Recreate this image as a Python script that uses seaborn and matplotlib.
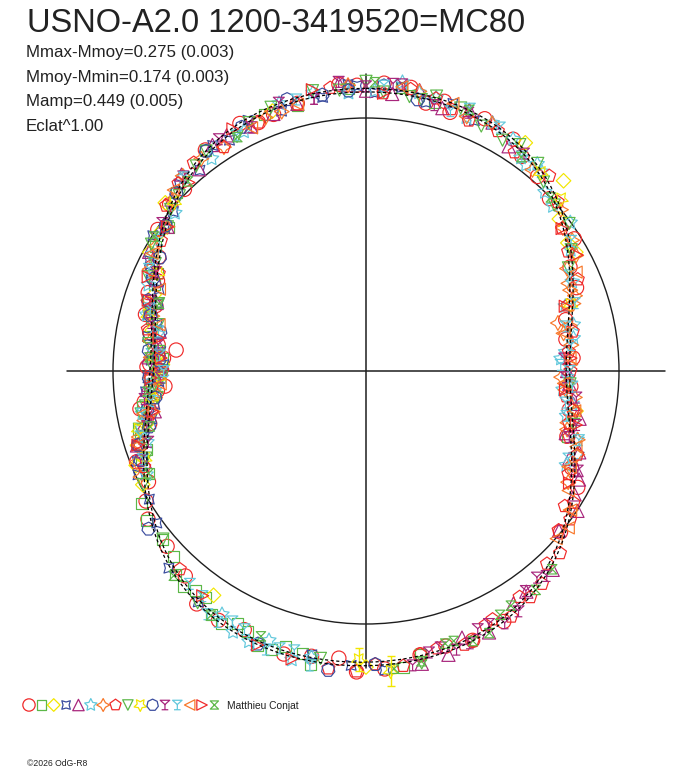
import numpy as np
import matplotlib
matplotlib.use("Agg")
import matplotlib.pyplot as plt
from matplotlib.path import Path
from matplotlib.patches import Circle
import seaborn as sns

sns.set_theme(style="white")
plt.rcParams['font.family'] = ['Liberation Sans', 'DejaVu Sans']

TITLE = "USNO-A2.0 1200-3419520=MC80"
STATS = ["Mmax-Mmoy=0.275 (0.003)", "Mmoy-Mmin=0.174 (0.003)",
         "Mamp=0.449 (0.005)", "Eclat^1.00"]
AUTHOR = "Matthieu Conjat"
COPYRIGHT = "\u00a92026 OdG-R8"

# observations: phase (0..1, clockwise from top) and relative brightness (1 = mean circle)
circle_red_phase = [0.010, 0.035, 0.070, 0.115, 0.190, 0.280, 0.420, 0.470, 0.490, 0.515, 0.545,
                    0.570, 0.600, 0.635, 0.700, 0.725, 0.745, 0.770, 0.790, 0.830, 0.900, 0.960,
                    0.7675, 0.753, 0.738, 0.7236,
                    0.025, 0.050, 0.090, 0.130, 0.160, 0.210, 0.240, 0.300, 0.330, 0.360, 0.440,
                    0.455, 0.505, 0.530, 0.585, 0.615, 0.655, 0.675, 0.690, 0.735, 0.755, 0.760,
                    0.805, 0.815, 0.845, 0.875, 0.925, 0.945, 0.985,
                    0.665, 0.712, 0.728, 0.748, 0.778, 0.798, 0.822, 0.862, 0.935, 0.995, 0.045,
                    0.100, 0.175, 0.225, 0.262, 0.320]
circle_red_flux = [1.140, 1.085, 1.102, 1.025, 0.895, 0.818, 1.130, 1.142, 1.180, 1.140, 1.165,
                   1.130, 1.138, 1.048, 0.935, 0.858, 0.848, 0.828, 0.900, 0.935, 1.080, 1.092,
                   0.755, 0.866, 0.797, 0.906,
                   1.135, 1.075, 1.085, 0.995, 0.975, 0.815, 0.820, 0.835, 0.955, 0.998, 1.145,
                   1.132, 1.190, 1.148, 1.145, 1.080, 1.042, 0.965, 0.975, 0.828, 0.855, 0.802,
                   0.915, 0.898, 0.995, 1.015, 1.098, 1.078, 1.138,
                   1.010, 0.880, 0.885, 0.818, 0.868, 0.870, 0.940, 1.018, 1.070, 1.130, 1.110,
                   1.048, 0.905, 0.800, 0.812, 0.898]

square_green_phase = [0.530, 0.545, 0.560, 0.575, 0.590, 0.605, 0.620, 0.640, 0.655, 0.680, 0.710,
                      0.760, 0.800, 0.850, 0.020, 0.470,
                      0.535, 0.552, 0.568, 0.583, 0.598, 0.612, 0.628, 0.665, 0.695, 0.725, 0.745,
                      0.775, 0.820, 0.900, 0.960, 0.480, 0.300,
                      0.690, 0.705, 0.738, 0.752, 0.788, 0.812, 0.835, 0.870, 0.940, 0.990, 0.040]
square_green_flux = [1.180, 1.135, 1.168, 1.120, 1.140, 1.100, 1.102, 1.045, 1.050, 0.948, 0.930,
                     0.805, 0.905, 0.965, 1.130, 1.142,
                     1.145, 1.162, 1.130, 1.150, 1.098, 1.118, 1.058, 1.030, 0.920, 0.895, 0.815,
                     0.870, 0.910, 1.078, 1.085, 1.180, 0.838,
                     0.955, 0.928, 0.858, 0.822, 0.872, 0.905, 0.965, 1.030, 1.092, 1.118, 1.095]

diamond_yellow_phase = [0.097, 0.128, 0.144, 0.160, 0.168, 0.595, 0.688, 0.861, 0.780, 0.740, 0.500,
                        0.700, 0.720, 0.755, 0.830, 0.280,
                        0.675, 0.712, 0.765, 0.805, 0.845, 0.945]
diamond_yellow_flux = [1.100, 1.084, 0.972, 0.945, 0.953, 1.072, 0.982, 1.035, 0.860, 0.845, 1.170,
                       0.950, 0.860, 0.805, 0.975, 0.845,
                       0.990, 0.895, 0.825, 0.890, 0.980, 1.092]

star4_blue_phase = [0.005, 0.050, 0.600, 0.650, 0.690, 0.715, 0.735, 0.755, 0.775, 0.810, 0.840,
                    0.890, 0.930, 0.975, 0.508,
                    0.020, 0.035, 0.490, 0.530, 0.625, 0.665, 0.700, 0.725, 0.745, 0.765, 0.790,
                    0.800, 0.825, 0.860, 0.905, 0.950, 0.990,
                    0.682, 0.705, 0.742, 0.758, 0.785, 0.818, 0.848, 0.875, 0.915, 0.995, 0.065]
star4_blue_flux = [1.100, 1.112, 1.128, 1.022, 0.972, 0.868, 0.875, 0.800, 0.875, 0.880, 0.998,
                   1.030, 1.095, 1.095, 1.165,
                   1.130, 1.088, 1.185, 1.142, 1.102, 0.995, 0.950, 0.845, 0.862, 0.815, 0.890,
                   0.862, 0.960, 0.988, 1.078, 1.080, 1.135,
                   0.990, 0.910, 0.820, 0.850, 0.845, 0.935, 0.975, 1.045, 1.060, 1.128, 1.078]

tri_purple_phase = [0.985, 0.015, 0.060, 0.930, 0.880, 0.260, 0.275, 0.298, 0.308, 0.320, 0.343,
                    0.455, 0.400, 0.760, 0.800,
                    0.000, 0.030, 0.045, 0.075, 0.960, 0.905, 0.850, 0.830, 0.780, 0.740, 0.720,
                    0.700, 0.285, 0.315, 0.325, 0.360, 0.380, 0.410, 0.430, 0.445, 0.470,
                    0.688, 0.712, 0.752, 0.770, 0.795, 0.815, 0.865, 0.890, 0.915, 0.945, 0.990,
                    0.090, 0.250, 0.335]
tri_purple_flux = [1.142, 1.100, 1.110, 1.068, 1.065, 0.805, 0.830, 0.827, 0.902, 0.920, 1.002,
                   1.168, 1.078, 0.862, 0.870,
                   1.108, 1.130, 1.082, 1.102, 1.090, 1.080, 0.970, 0.978, 0.830, 0.862, 0.850,
                   0.952, 0.865, 0.875, 0.945, 0.990, 1.078, 1.088, 1.142, 1.120, 1.178,
                   0.945, 0.905, 0.840, 0.828, 0.885, 0.905, 1.025, 1.035, 1.082, 1.080, 1.132,
                   1.052, 0.795, 0.958]

star5_cyan_phase = [0.030, 0.020, 0.090, 0.105, 0.115, 0.125, 0.225, 0.240, 0.255, 0.285, 0.310,
                    0.320, 0.540, 0.555, 0.565, 0.700, 0.790, 0.900,
                    0.040, 0.060, 0.075, 0.100, 0.110, 0.135, 0.150, 0.200, 0.215, 0.265, 0.300,
                    0.530, 0.575, 0.585, 0.720, 0.745, 0.810, 0.860, 0.950, 0.990,
                    0.680, 0.710, 0.735, 0.765, 0.778, 0.830, 0.880, 0.925, 0.970, 0.005, 0.165,
                    0.185, 0.235, 0.275]
star5_cyan_flux = [1.120, 1.150, 1.085, 1.032, 1.050, 1.000, 0.830, 0.772, 0.800, 0.812, 0.898,
                   0.875, 1.178, 1.132, 1.165, 0.910, 0.895, 1.038,
                   1.115, 1.078, 1.100, 1.042, 1.062, 0.985, 0.998, 0.828, 0.840, 0.782, 0.878,
                   1.152, 1.158, 1.118, 0.900, 0.808, 0.925, 0.980, 1.112, 1.102,
                   0.960, 0.915, 0.840, 0.845, 0.835, 0.960, 1.050, 1.062, 1.120, 1.108, 0.940,
                   0.888, 0.792, 0.825]

spark_orange_phase = [0.160, 0.175, 0.195, 0.211, 0.230, 0.265, 0.280, 0.295, 0.310, 0.330, 0.345,
                      0.705, 0.730, 0.820, 0.950, 0.075,
                      0.150, 0.170, 0.185, 0.200, 0.220, 0.245, 0.255, 0.270, 0.290, 0.300, 0.320,
                      0.690, 0.720, 0.745, 0.760, 0.800, 0.850, 0.880, 0.910, 0.030, 0.110,
                      0.680, 0.715, 0.735, 0.752, 0.772, 0.790, 0.835, 0.865, 0.895, 0.940, 0.990,
                      0.060, 0.140, 0.190, 0.215, 0.260]
spark_orange_flux = [0.965, 0.892, 0.878, 0.782, 0.818, 0.792, 0.842, 0.828, 0.898, 0.912, 0.978,
                     0.935, 0.840, 0.945, 1.078, 1.098,
                     0.962, 0.948, 0.872, 0.862, 0.795, 0.808, 0.772, 0.832, 0.822, 0.880, 0.888,
                     0.975, 0.858, 0.855, 0.818, 0.905, 0.970, 1.058, 1.048, 1.125, 1.032,
                     0.985, 0.898, 0.845, 0.818, 0.862, 0.872, 0.968, 1.020, 1.062, 1.078, 1.132,
                     1.082, 1.000, 0.868, 0.825, 0.800]

penta_red_phase = [0.010, 0.040, 0.062, 0.080, 0.150, 0.185, 0.250, 0.270, 0.350, 0.360, 0.370,
                   0.380, 0.390, 0.405, 0.415, 0.430, 0.445, 0.460, 0.480, 0.495, 0.520, 0.620,
                   0.860, 0.910,
                   0.025, 0.095, 0.120, 0.165, 0.220, 0.290, 0.310, 0.325, 0.340, 0.345, 0.400,
                   0.425, 0.440, 0.470, 0.505, 0.700, 0.750, 0.780, 0.820, 0.890, 0.960,
                   0.685, 0.715, 0.738, 0.762, 0.795, 0.840, 0.875, 0.935, 0.980, 0.050, 0.135,
                   0.200, 0.235, 0.280, 0.300]
penta_red_flux = [1.100, 1.112, 1.070, 1.082, 0.958, 0.912, 0.808, 0.798, 0.998, 0.988, 1.052,
                  1.045, 1.092, 1.080, 1.128, 1.110, 1.150, 1.132, 1.175, 1.160, 1.185, 1.075,
                  1.025, 1.048,
                  1.128, 1.045, 1.058, 0.928, 0.832, 0.828, 0.898, 0.898, 0.972, 0.950, 1.105,
                  1.102, 1.148, 1.140, 1.188, 0.945, 0.805, 0.878, 0.905, 1.068, 1.088,
                  0.955, 0.885, 0.848, 0.822, 0.885, 0.960, 1.048, 1.070, 1.128, 1.088, 1.010,
                  0.838, 0.805, 0.832, 0.845]

tridown_green_phase = [0.000, 0.025, 0.055, 0.085, 0.110, 0.135, 0.470, 0.690, 0.720, 0.745, 0.770,
                       0.800, 0.835, 0.870, 0.945,
                       0.010, 0.040, 0.070, 0.095, 0.120, 0.150, 0.175, 0.525, 0.600, 0.640, 0.710,
                       0.730, 0.755, 0.785, 0.815, 0.850, 0.900, 0.920, 0.970,
                       0.675, 0.700, 0.725, 0.740, 0.765, 0.792, 0.825, 0.860, 0.890, 0.930, 0.985,
                       0.032, 0.165, 0.260, 0.290]
tridown_green_flux = [1.145, 1.098, 1.105, 1.060, 1.065, 0.992, 1.175, 0.935, 0.905, 0.808, 0.865,
                      0.862, 0.985, 1.012, 1.108,
                      1.105, 1.122, 1.070, 1.082, 1.025, 0.992, 0.898, 1.150, 1.132, 1.042, 0.925,
                      0.832, 0.850, 0.840, 0.938, 0.970, 1.075, 1.058, 1.128,
                      0.988, 0.918, 0.882, 0.838, 0.822, 0.880, 0.935, 1.002, 1.052, 1.085, 1.115,
                      1.095, 0.942, 0.808, 0.848]

star5_yellow_phase = [0.200, 0.504, 0.487, 0.730, 0.760, 0.865, 0.115,
                      0.690, 0.710, 0.745, 0.790, 0.820, 0.135]
star5_yellow_flux = [0.850, 1.142, 1.190, 0.855, 0.835, 1.010, 1.045,
                     0.940, 0.928, 0.818, 0.890, 0.910, 1.028]
star5_yellow_err = [0.0, 0.045, 0.060, 0.0, 0.0, 0.0, 0.0,
                    0.0, 0.0, 0.0, 0.0, 0.0, 0.0]

hepta_blue_phase = [0.495, 0.520, 0.650, 0.710, 0.765, 0.850, 0.955, 0.990,
                    0.560, 0.700, 0.730, 0.745, 0.780, 0.800, 0.830, 0.900, 0.030,
                    0.690, 0.722, 0.758, 0.790, 0.815, 0.870, 0.925, 0.975, 0.010]
hepta_blue_flux = [1.160, 1.192, 1.062, 0.885, 0.862, 0.978, 1.118, 1.110,
                   1.160, 0.948, 0.840, 0.858, 0.828, 0.905, 0.930, 1.075, 1.092,
                   0.958, 0.878, 0.820, 0.880, 0.918, 1.028, 1.082, 1.105, 1.130]

tref_purple_phase = [0.385, 0.400, 0.420, 0.435, 0.450, 0.465, 0.475, 0.970, 0.985, 0.000, 0.020,
                     0.290, 0.760, 0.800,
                     0.390, 0.410, 0.428, 0.442, 0.458, 0.015, 0.040, 0.950, 0.930, 0.910, 0.700,
                     0.730, 0.745, 0.270, 0.300, 0.320,
                     0.690, 0.712, 0.770, 0.785, 0.820, 0.850, 0.880, 0.970, 0.060, 0.100, 0.240,
                     0.255]
tref_purple_flux = [1.080, 1.075, 1.138, 1.112, 1.158, 1.140, 1.178, 1.095, 1.148, 1.125, 1.142,
                    0.858, 0.822, 0.898,
                    1.060, 1.125, 1.112, 1.152, 1.132, 1.140, 1.085, 1.115, 1.065, 1.085, 0.905,
                    0.882, 0.812, 0.838, 0.845, 0.925,
                    0.958, 0.892, 0.828, 0.870, 0.918, 0.995, 1.055, 1.095, 1.098, 1.062, 0.785,
                    0.790]

tref_cyan_phase = [0.530, 0.548, 0.562, 0.578, 0.592, 0.610, 0.230, 0.245, 0.262, 0.275, 0.720,
                   0.750, 0.060,
                   0.540, 0.555, 0.570, 0.585, 0.600, 0.250, 0.285, 0.300, 0.315, 0.200, 0.180,
                   0.050, 0.080, 0.740, 0.780, 0.820,
                   0.690, 0.705, 0.728, 0.762, 0.795, 0.840, 0.880, 0.920, 0.960, 0.010, 0.100,
                   0.160, 0.215]
tref_cyan_flux = [1.185, 1.148, 1.168, 1.122, 1.148, 1.092, 0.818, 0.770, 0.818, 0.798, 0.902,
                  0.800, 1.115,
                  1.140, 1.170, 1.128, 1.152, 1.100, 0.805, 0.812, 0.885, 0.872, 0.868, 0.888,
                  1.080, 1.098, 0.858, 0.835, 0.948,
                  0.948, 0.928, 0.860, 0.818, 0.888, 0.968, 1.050, 1.062, 1.108, 1.130, 1.048,
                  0.960, 0.808]

left_orange_phase = [0.180, 0.220, 0.305, 0.335, 0.355, 0.365, 0.700, 0.785, 0.830, 0.930, 0.050,
                     0.200, 0.240, 0.260, 0.280, 0.320, 0.345, 0.720, 0.740, 0.760, 0.810, 0.870,
                     0.960, 0.020]
left_orange_flux = [0.918, 0.798, 0.882, 0.928, 1.012, 1.002, 0.948, 0.838, 0.965, 1.062, 1.112,
                    0.832, 0.808, 0.782, 0.840, 0.892, 0.978, 0.898, 0.815, 0.858, 0.878, 1.045,
                    1.088, 1.132]

right_red_phase = [0.150, 0.240, 0.265, 0.745, 0.775, 0.815, 0.880, 0.970, 0.540,
                   0.170, 0.200, 0.290, 0.330, 0.560, 0.600, 0.700, 0.720, 0.760, 0.800, 0.850,
                   0.920, 0.010]
right_red_flux = [0.958, 0.812, 0.792, 0.850, 0.828, 0.938, 1.022, 1.132, 1.175,
                  0.952, 0.828, 0.858, 0.918, 1.165, 1.098, 0.948, 0.858, 0.812, 0.905, 0.970,
                  1.092, 1.100]

hour_green_phase = [0.395, 0.412, 0.440, 0.455, 0.590, 0.680, 0.735, 0.880, 0.005, 0.100, 0.470,
                    0.380, 0.420, 0.430, 0.450, 0.485, 0.560, 0.620, 0.710, 0.760, 0.800, 0.840,
                    0.920, 0.060, 0.130]
hour_green_flux = [1.095, 1.090, 1.148, 1.122, 1.145, 0.950, 0.868, 1.028, 1.142, 1.045, 1.168,
                   1.075, 1.100, 1.145, 1.122, 1.182, 1.128, 1.110, 0.882, 0.858, 0.860, 0.992,
                   1.055, 1.110, 1.002]

RED, GREEN, YELLOW, BLUE = "#f02a2a", "#5cb848", "#f2e600", "#3a4c9e"
PURPLE, CYAN, ORANGE = "#a8267c", "#62c8dc", "#f8782a"

# custom marker shapes
trefoil = Path([(-1, 1), (1, 1), (0, 0.1), (-1, 1), (0, 0.1), (0, -1), (-0.7, -1), (0.7, -1)],
               [Path.MOVETO, Path.LINETO, Path.LINETO, Path.CLOSEPOLY,
                Path.MOVETO, Path.LINETO, Path.MOVETO, Path.LINETO])
hourglass = Path([(-1, 1), (1, 1), (-1, -1), (1, -1), (-1, 1)],
                 [Path.MOVETO, Path.LINETO, Path.LINETO, Path.LINETO, Path.CLOSEPOLY])

series = [
    (circle_red_phase, circle_red_flux, RED, "o", 105),
    (square_green_phase, square_green_flux, GREEN, "s", 62),
    (diamond_yellow_phase, diamond_yellow_flux, YELLOW, "D", 55),
    (star4_blue_phase, star4_blue_flux, BLUE, (4, 1, 45), 100),
    (tri_purple_phase, tri_purple_flux, PURPLE, "^", 90),
    (star5_cyan_phase, star5_cyan_flux, CYAN, (5, 1, 0), 115),
    (spark_orange_phase, spark_orange_flux, ORANGE, (4, 1, 0), 115),
    (penta_red_phase, penta_red_flux, RED, "p", 95),
    (tridown_green_phase, tridown_green_flux, GREEN, "v", 75),
    (star5_yellow_phase, star5_yellow_flux, YELLOW, (5, 1, 180), 115),
    (hepta_blue_phase, hepta_blue_flux, BLUE, (7, 0, 0), 95),
    (tref_purple_phase, tref_purple_flux, PURPLE, trefoil, 62),
    (tref_cyan_phase, tref_cyan_flux, CYAN, trefoil, 62),
    (left_orange_phase, left_orange_flux, ORANGE, "<", 75),
    (right_red_phase, right_red_flux, RED, ">", 75),
    (hour_green_phase, hour_green_flux, GREEN, hourglass, 46),
]

W, H = 688, 768
CX, CY, R0 = 366, 371, 253  # centre and unit-circle radius in pixels


def to_xy(phase, flux):
    ang = 2 * np.pi * np.asarray(phase, dtype=float)
    r = np.asarray(flux, dtype=float)
    return r * np.sin(ang), r * np.cos(ang)


def harmonic_fit(phase, flux, order=4):
    ang = 2 * np.pi * np.asarray(phase)
    cols = [np.ones_like(ang)]
    for k in range(1, order + 1):
        cols += [np.cos(k * ang), np.sin(k * ang)]
    coef, *_ = np.linalg.lstsq(np.column_stack(cols), np.asarray(flux), rcond=None)
    return coef


def harmonic_eval(coef, phase):
    ang = 2 * np.pi * phase
    out = np.full_like(ang, coef[0])
    for k in range(1, (len(coef) - 1) // 2 + 1):
        out += coef[2 * k - 1] * np.cos(k * ang) + coef[2 * k] * np.sin(k * ang)
    return out


fig = plt.figure(figsize=(W / 100, H / 100), dpi=100)
ax = fig.add_axes([0, 0, 1, 1])
ax.set_xlim(-CX / R0, (W - CX) / R0)
ax.set_ylim(-(H - CY) / R0, CY / R0)
ax.axis("off")

# mean-brightness circle and axes
ax.add_patch(Circle((0, 0), 1.0, fill=False, ec="#1e1e1e", lw=1.0, zorder=1))
ax.plot([-1.18, 1.18], [0, 0], color="#1e1e1e", lw=1.1, zorder=1)
ax.plot([0, 0], [-1.175, 1.175], color="#1e1e1e", lw=1.1, zorder=1)

# observations
for ph, fl, col, mk, size in series:
    x, y = to_xy(ph, fl)
    sns.scatterplot(x=x, y=y, ax=ax, marker=mk, s=size, facecolor="none",
                    edgecolor=col, linewidth=0.85, legend=False, zorder=3)

# error bars on the faint yellow points
ex, ey = to_xy(star5_yellow_phase, star5_yellow_flux)
err = np.array(star5_yellow_err)
has_err = err > 0
ax.errorbar(ex[has_err], ey[has_err], yerr=err[has_err], fmt="none", ecolor=YELLOW,
            elinewidth=1.0, capsize=3, zorder=3)

# harmonic fit of all points
all_phase = np.concatenate([s[0] for s in series])
all_flux = np.concatenate([s[1] for s in series])
coef = harmonic_fit(all_phase, all_flux)
grid = np.linspace(0, 1, 721)
fit = harmonic_eval(coef, grid)
for off in (-0.007, 0.007):
    fx, fy = to_xy(grid, fit + off)
    ax.plot(fx, fy, color="black", lw=0.9, ls=(0, (2.5, 2)), zorder=4)

# marker key along the bottom
for i, (ph, fl, col, mk, size) in enumerate(series):
    px = 29 + 12.36 * i
    ax.scatter([(px - CX) / R0], [(CY - 705) / R0], marker=mk, s=size * 0.75, facecolor="none",
               edgecolor=col, linewidth=0.9)

fig.text(27 / W, 1 - 32 / H, TITLE, fontsize=23.5, color="#222222", va="baseline")
for i, line in enumerate(STATS):
    fig.text(26 / W, 1 - (57 + 24.7 * i) / H, line, fontsize=12.2, color="#222222",
             va="baseline")
fig.text(227 / W, 1 - 709 / H, AUTHOR, fontsize=7.4, color="#222222", va="baseline")
fig.text(27 / W, 1 - 766 / H, COPYRIGHT, fontsize=6.2, color="#222222", va="baseline")

fig.savefig("out.png", dpi=100, facecolor="white")
